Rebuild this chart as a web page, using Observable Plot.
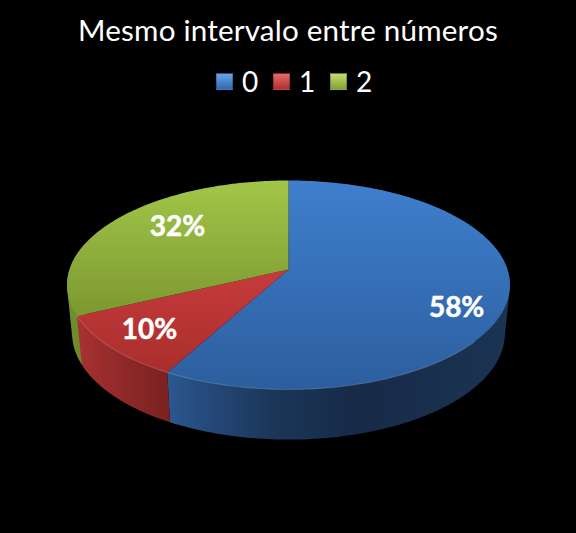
<!DOCTYPE html>
<html>
<head>
<meta charset="utf-8">
<script src="https://cdn.jsdelivr.net/npm/d3@7"></script>
<script src="https://cdn.jsdelivr.net/npm/@observablehq/plot@0.6"></script>
<style>
html,body{margin:0;padding:0;background:#000;}
#page{position:relative;width:576px;height:533px;background:#000;overflow:hidden;font-family:Lato,"Open Sans",sans-serif;color:#fff;}
#head{height:100px;position:relative;}
#title{position:absolute;left:0;right:0;top:12px;text-align:center;font-size:29.6px;line-height:36px;letter-spacing:.2px;white-space:nowrap;}
#legend{position:absolute;left:216px;top:62px;display:flex;}
.item{width:57px;display:flex;align-items:center;font-size:28px;line-height:38px;}
.sw{width:17px;height:17px;margin-right:9px;box-sizing:border-box;border:1px solid rgba(0,0,0,.25);}
svg{display:block;}
</style>
</head>
<body>
<div id="page">
  <div id="head"><div id="title"></div><div id="legend"></div></div>
  <div id="chart"></div>
</div>
<script>
const chartTitle = "Mesmo intervalo entre números";
const categories = ["0", "1", "2"];
const shares = [58, 10, 32];

// styling
const topGradients = [["#3f7fce", "#2c5e9e"], ["#c63b3b", "#a92e2d"], ["#a2c649", "#7c9830"]];
const wallGradients = [
  [[0, "#2b5890"], [0.12, "#24497a"], [0.3, "#1c3759"], [0.55, "#172a48"], [1, "#1b3454"]],
  [[0, "#a83231"], [0.5, "#8f2928"], [1, "#7a2120"]],
  [[0, "#76922d"], [1, "#64802a"]]
];
const swatchGradients = [["#6aa5e6", "#2f6ab2"], ["#e56b68", "#b32e2c"], ["#c3dd70", "#83a232"]];

document.getElementById("title").textContent = chartTitle;
const legend = d3.select("#legend");
categories.forEach((c, i) => {
  const it = legend.append("div").attr("class", "item");
  it.append("div").attr("class", "sw")
    .style("background", `linear-gradient(${swatchGradients[i][0]},${swatchGradients[i][1]})`);
  it.append("span").text(c);
});

// disc geometry: a tilted circle seen in perspective
const cx = 288, persp = 0.1483;
const topDisc = {apex: 269, kx: 219, ky: 102.2, cx};
const lowDisc = {apex: 317, kx: 214, ky: 104, cx};
function project(disc, deg, r = 1) {
  const a = deg * Math.PI / 180, u = r * Math.sin(a), v = -r * Math.cos(a), d = 1 - persp * v;
  return {x: disc.cx + disc.kx * u / d, y: disc.apex + disc.ky * v / d};
}
const total = d3.sum(shares);
let acc = 0;
const slices = shares.map((s, i) => {
  const start = acc / total * 360;
  acc += s;
  return {i, start, end: acc / total * 360, category: categories[i], share: s};
});
function arcAngles(a, b) {
  const n = Math.max(2, Math.ceil((b - a) / 1));
  return d3.range(n + 1).map(k => a + (b - a) * k / n);
}
const wedge = s => [
  {x: cx, y: topDisc.apex},
  ...arcAngles(s.start, s.end).map(t => project(topDisc, t))
];
// visible wall range of each slice
const wallRange = [[78, slices[0].end], [slices[1].start, slices[1].end], [slices[2].start, 285]];
const wall = s => {
  const angles = arcAngles(...wallRange[s.i]);
  const pts = [...angles.map(t => project(topDisc, t)), ...angles.map(t => project(lowDisc, t))];
  return d3.polygonHull(pts.map(p => [p.x, p.y])).map(([x, y]) => ({x, y}));
};
const rimRange = [[130, slices[0].end], [slices[1].start, slices[1].end]];
const rim = r => arcAngles(...r).map(t => project(topDisc, t));

const labelR = [0.77, 0.80, 0.63], labelDy = [18, 0, -10];
const labels = slices.map(s => {
  const p = project(topDisc, (s.start + s.end) / 2, labelR[s.i]);
  return {x: p.x, y: p.y + labelDy[s.i], text: s.share + "%"};
});

const defs = () => {
  const d = d3.create("svg:defs");
  topGradients.forEach((g, i) => {
    const lg = d.append("linearGradient").attr("id", "top" + i).attr("x1", 0).attr("x2", 0).attr("y1", 0).attr("y2", 1);
    lg.append("stop").attr("offset", 0).attr("stop-color", g[0]);
    lg.append("stop").attr("offset", 1).attr("stop-color", g[1]);
  });
  wallGradients.forEach((g, i) => {
    const lg = d.append("linearGradient").attr("id", "wall" + i).attr("x1", 0).attr("x2", 1).attr("y1", 0).attr("y2", 0);
    g.forEach(([o, c]) => lg.append("stop").attr("offset", o).attr("stop-color", c));
  });
  return d.node();
};

const marks = [defs];
// walls: back to front
[2, 0, 1].forEach(i => marks.push(Plot.line(wall(slices[i]), {
  x: "x", y: "y", fill: `url(#wall${i})`, stroke: "none", curve: "linear-closed"
})));
slices.forEach(s => marks.push(Plot.line(wedge(s), {
  x: "x", y: "y", fill: `url(#top${s.i})`, stroke: "none", curve: "linear-closed"
})));
rimRange.forEach(r => marks.push(Plot.line(rim(r), {
  x: "x", y: "y", stroke: "#ffffff", strokeOpacity: 0.15, strokeWidth: 1.2, curve: "linear"
})));
marks.push(Plot.text(labels, {
  x: "x", y: "y", text: "text", fill: "#fff", fontSize: 28, fontWeight: 700,
  fontFamily: "Lato, 'Open Sans', sans-serif", textAnchor: "middle",
  stroke: "#fff", strokeWidth: 0.5
}));

const plot = Plot.plot({
  width: 576, height: 433,
  marginTop: 0, marginRight: 0, marginBottom: 0, marginLeft: 0,
  style: {background: "#000"},
  x: {domain: [0, 576], range: [0, 576], axis: null},
  y: {domain: [100, 533], range: [0, 433], axis: null},
  marks
});
document.getElementById("chart").appendChild(plot);
</script>
</body>
</html>
